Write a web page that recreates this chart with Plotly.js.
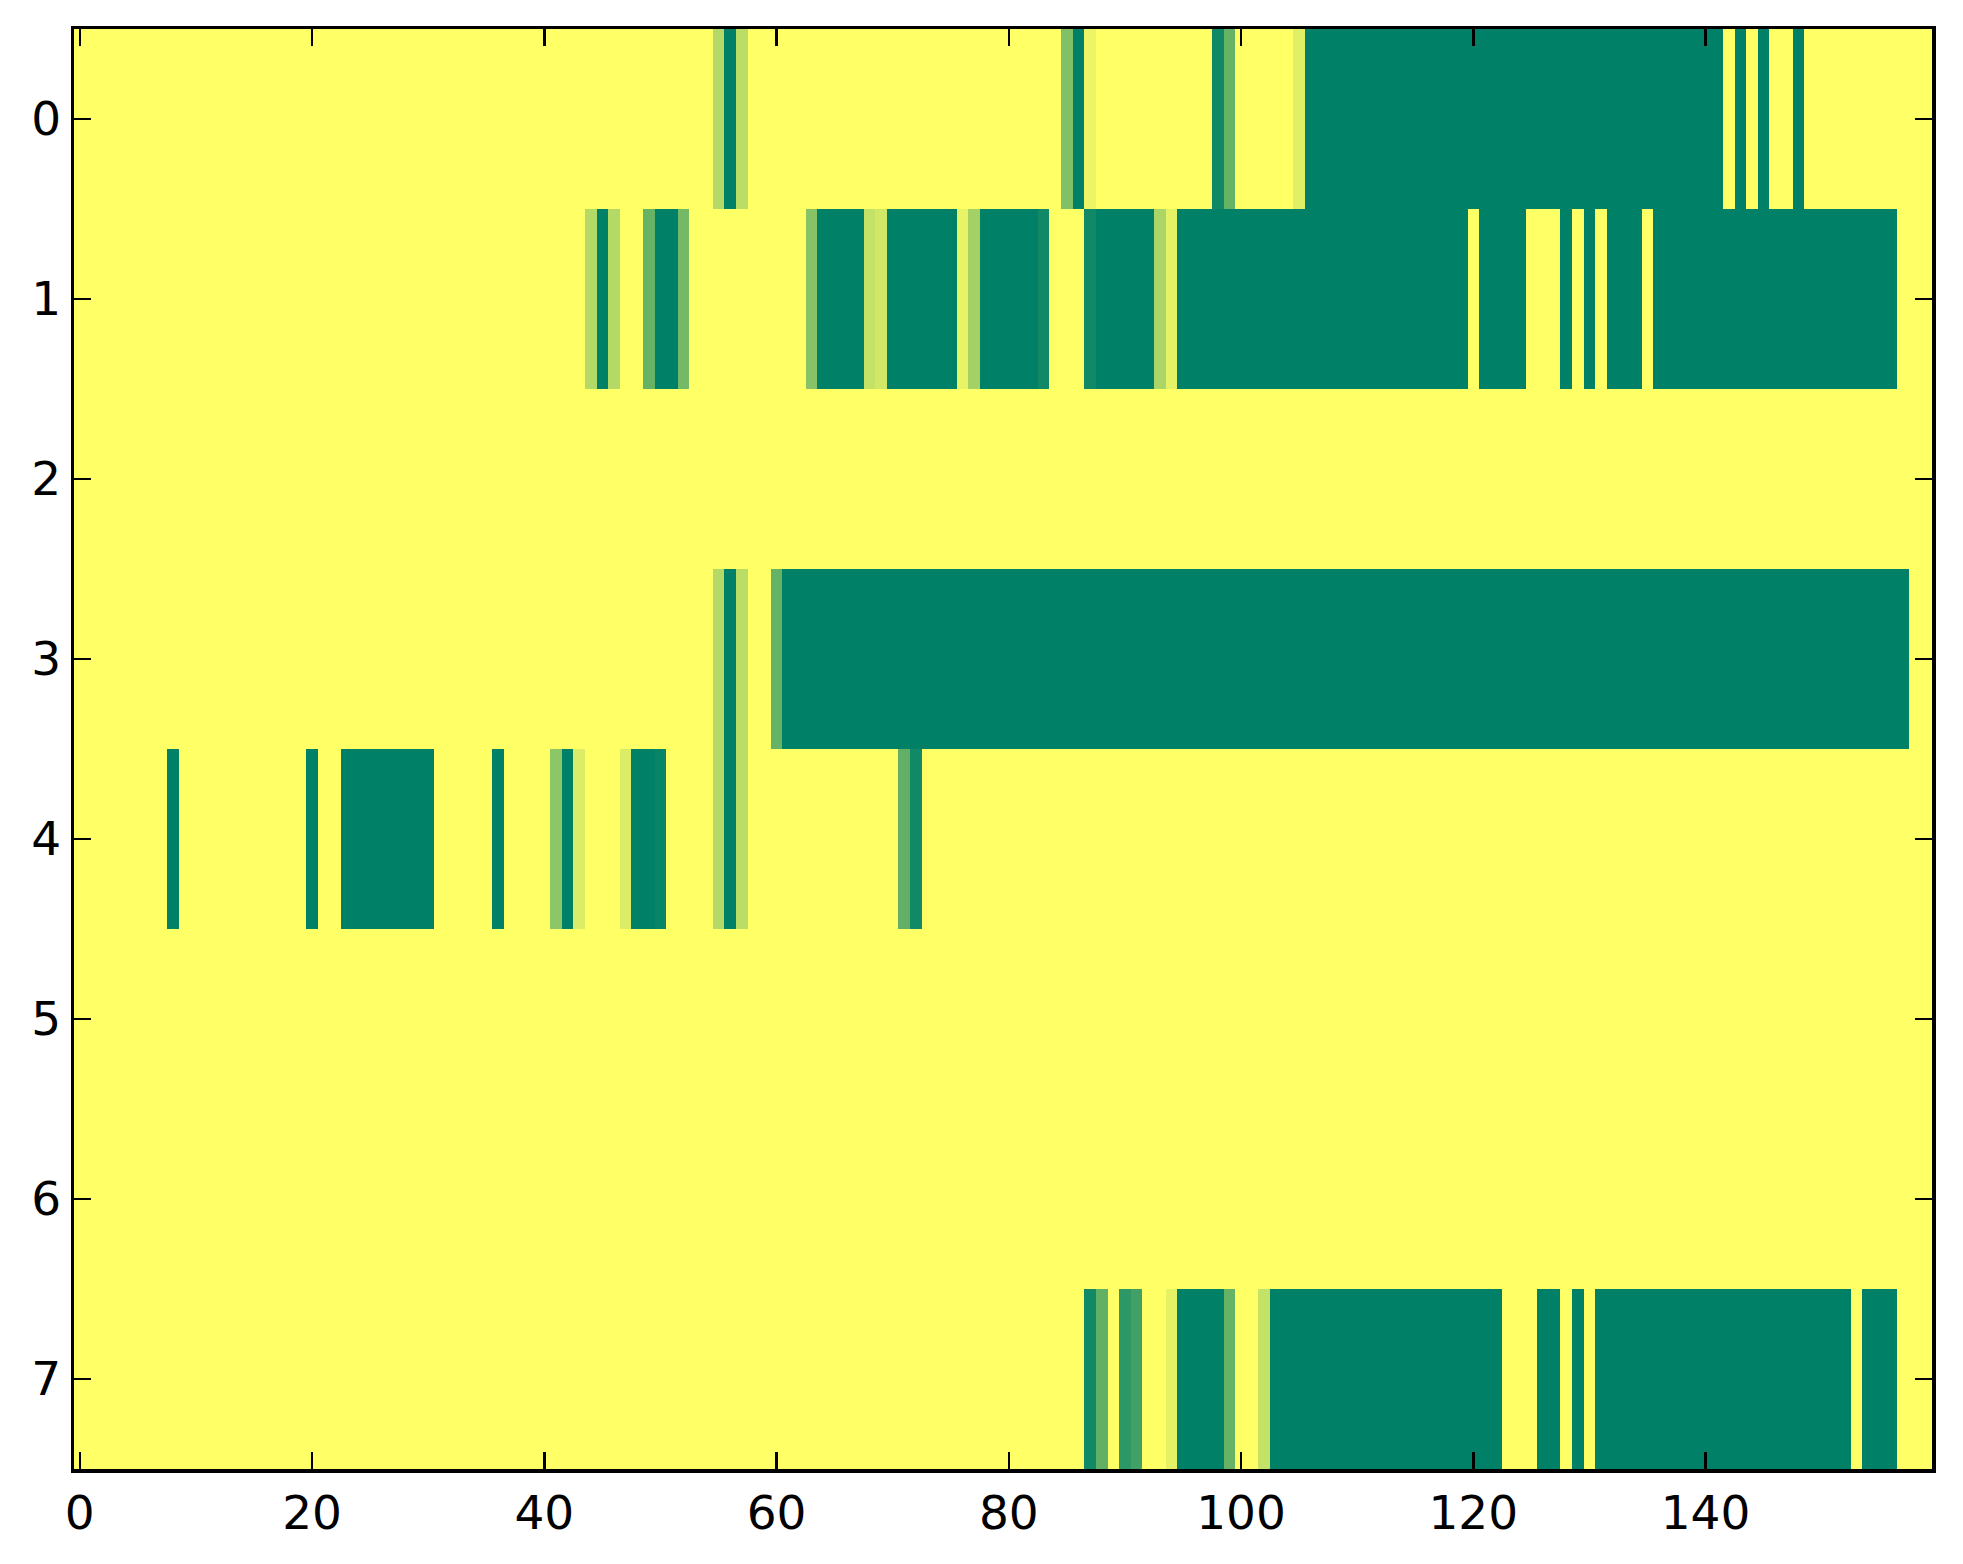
<!DOCTYPE html>
<html>
<head>
<meta charset="utf-8">
<script src="https://cdn.plot.ly/plotly-3.0.1.min.js"></script>
<style>html,body{margin:0;padding:0;background:#fff;}</style>
</head>
<body>
<div id="chart" style="width:1963px;height:1564px;"></div>
<script>
// Row values (160 columns each, 0 = low / yellow, 1 = high / green)
const row0 = [
0,0,0,0,0,0,0,0,0,0,0,0,0,0,0,0,0,0,0,0,
0,0,0,0,0,0,0,0,0,0,0,0,0,0,0,0,0,0,0,0,
0,0,0,0,0,0,0,0,0,0,0,0,0,0,0,0.3,1,0.27,0,0,
0,0,0,0,0,0,0,0,0,0,0,0,0,0,0,0,0,0,0,0,
0,0,0,0,0,0.5,1,0.08,0,0,0,0,0,0,0,0,0,0,0.94,0.6,
0,0,0,0,0,0.12,1,1,1,1,1,1,1,1,1,1,1,1,1,1,
1,1,1,1,1,1,1,1,1,1,1,1,1,1,1,1,1,1,1,1,
1,1,0,1,0,1,0,0,1,0,0,0,0,0,0,0,0,0,0,0];
const row1 = [
0,0,0,0,0,0,0,0,0,0,0,0,0,0,0,0,0,0,0,0,
0,0,0,0,0,0,0,0,0,0,0,0,0,0,0,0,0,0,0,0,
0,0,0,0,0.3,1,0.3,0,0,0.6,1,1,0.55,0,0,0,0,0,0,0,
0,0,0,0.47,1,1,1,1,0.23,0.18,1,1,1,1,1,1,0.09,0.36,1,1,
1,1,1,0.93,0,0,0,0.93,1,1,1,1,1,0.33,0.1,1,1,1,1,1,
1,1,1,1,1,1,1,1,1,1,1,1,1,1,1,1,1,1,1,1,
0,1,1,1,1,0,0,0,1,0,1,0,1,1,1,0,1,1,1,1,
1,1,1,1,1,1,1,1,1,1,1,1,1,1,1,1,1,0,0,0];
const row2 = [
0,0,0,0,0,0,0,0,0,0,0,0,0,0,0,0,0,0,0,0,
0,0,0,0,0,0,0,0,0,0,0,0,0,0,0,0,0,0,0,0,
0,0,0,0,0,0,0,0,0,0,0,0,0,0,0,0,0,0,0,0,
0,0,0,0,0,0,0,0,0,0,0,0,0,0,0,0,0,0,0,0,
0,0,0,0,0,0,0,0,0,0,0,0,0,0,0,0,0,0,0,0,
0,0,0,0,0,0,0,0,0,0,0,0,0,0,0,0,0,0,0,0,
0,0,0,0,0,0,0,0,0,0,0,0,0,0,0,0,0,0,0,0,
0,0,0,0,0,0,0,0,0,0,0,0,0,0,0,0,0,0,0,0];
const row3 = [
0,0,0,0,0,0,0,0,0,0,0,0,0,0,0,0,0,0,0,0,
0,0,0,0,0,0,0,0,0,0,0,0,0,0,0,0,0,0,0,0,
0,0,0,0,0,0,0,0,0,0,0,0,0,0,0,0.3,1,0.27,0,0,
0.6,1,1,1,1,1,1,1,1,1,1,1,1,1,1,1,1,1,1,1,
1,1,1,1,1,1,1,1,1,1,1,1,1,1,1,1,1,1,1,1,
1,1,1,1,1,1,1,1,1,1,1,1,1,1,1,1,1,1,1,1,
1,1,1,1,1,1,1,1,1,1,1,1,1,1,1,1,1,1,1,1,
1,1,1,1,1,1,1,1,1,1,1,1,1,1,1,1,1,1,0,0];
const row4 = [
0,0,0,0,0,0,0,0,1,0,0,0,0,0,0,0,0,0,0,0,
1,0,0,1,1,1,1,1,1,1,1,0,0,0,0,0,1,0,0,0,
0,0.45,1,0.14,0,0,0,0.14,1,1,0.97,0,0,0,0,0.3,1,0.27,0,0,
0,0,0,0,0,0,0,0,0,0,0,0.62,0.93,0,0,0,0,0,0,0,
0,0,0,0,0,0,0,0,0,0,0,0,0,0,0,0,0,0,0,0,
0,0,0,0,0,0,0,0,0,0,0,0,0,0,0,0,0,0,0,0,
0,0,0,0,0,0,0,0,0,0,0,0,0,0,0,0,0,0,0,0,
0,0,0,0,0,0,0,0,0,0,0,0,0,0,0,0,0,0,0,0];
const row5 = [
0,0,0,0,0,0,0,0,0,0,0,0,0,0,0,0,0,0,0,0,
0,0,0,0,0,0,0,0,0,0,0,0,0,0,0,0,0,0,0,0,
0,0,0,0,0,0,0,0,0,0,0,0,0,0,0,0,0,0,0,0,
0,0,0,0,0,0,0,0,0,0,0,0,0,0,0,0,0,0,0,0,
0,0,0,0,0,0,0,0,0,0,0,0,0,0,0,0,0,0,0,0,
0,0,0,0,0,0,0,0,0,0,0,0,0,0,0,0,0,0,0,0,
0,0,0,0,0,0,0,0,0,0,0,0,0,0,0,0,0,0,0,0,
0,0,0,0,0,0,0,0,0,0,0,0,0,0,0,0,0,0,0,0];
const row6 = [
0,0,0,0,0,0,0,0,0,0,0,0,0,0,0,0,0,0,0,0,
0,0,0,0,0,0,0,0,0,0,0,0,0,0,0,0,0,0,0,0,
0,0,0,0,0,0,0,0,0,0,0,0,0,0,0,0,0,0,0,0,
0,0,0,0,0,0,0,0,0,0,0,0,0,0,0,0,0,0,0,0,
0,0,0,0,0,0,0,0,0,0,0,0,0,0,0,0,0,0,0,0,
0,0,0,0,0,0,0,0,0,0,0,0,0,0,0,0,0,0,0,0,
0,0,0,0,0,0,0,0,0,0,0,0,0,0,0,0,0,0,0,0,
0,0,0,0,0,0,0,0,0,0,0,0,0,0,0,0,0,0,0,0];
const row7 = [
0,0,0,0,0,0,0,0,0,0,0,0,0,0,0,0,0,0,0,0,
0,0,0,0,0,0,0,0,0,0,0,0,0,0,0,0,0,0,0,0,
0,0,0,0,0,0,0,0,0,0,0,0,0,0,0,0,0,0,0,0,
0,0,0,0,0,0,0,0,0,0,0,0,0,0,0,0,0,0,0,0,
0,0,0,0,0,0,0,0.93,0.62,0,0.82,0.75,0,0,0.1,1,1,1,1,0.6,
0,0,0.23,1,1,1,1,1,1,1,1,1,1,1,1,1,1,1,1,1,
1,1,1,0,0,0,1,1,0,1,0,1,1,1,1,1,1,1,1,1,
1,1,1,1,1,1,1,1,1,1,1,1,1,0,1,1,1,0,0,0];

const xTicks = [0, 20, 40, 60, 80, 100, 120, 140];
const yTicks = [0, 1, 2, 3, 4, 5, 6, 7];

const zRows = [row0, row1, row2, row3, row4, row5, row6, row7];

// matplotlib "summer_r" colormap
const summerR = [[0, 'rgb(255,255,102)'], [1, 'rgb(0,128,102)']];

const tickFont = {family: 'DejaVu Sans', size: 47, color: '#000'};
const axisCommon = {
  ticks: 'inside', ticklen: 17, tickwidth: 2.5, tickcolor: '#000',
  showline: true, linewidth: 3.5, linecolor: '#000', mirror: 'ticks',
  showgrid: false, zeroline: false, tickfont: tickFont, tickmode: 'array'
};

const data = [{
  type: 'heatmap',
  z: zRows,
  colorscale: summerR,
  zmin: 0, zmax: 1,
  showscale: false,
  zsmooth: false,
  hoverongaps: false
}];

const layout = {
  width: 1963, height: 1564,
  paper_bgcolor: '#fff', plot_bgcolor: '#fff',
  margin: {l: 74, r: 31, t: 29, b: 95, pad: 0},
  showlegend: false,
  xaxis: Object.assign({}, axisCommon, {
    range: [-0.5, 159.5], tickvals: xTicks, ticktext: xTicks.map(String)
  }),
  yaxis: Object.assign({}, axisCommon, {
    range: [7.5, -0.5], tickvals: yTicks, ticktext: yTicks.map(String)
  })
};

Plotly.newPlot('chart', data, layout, {displayModeBar: false, staticPlot: true});
</script>
</body>
</html>
